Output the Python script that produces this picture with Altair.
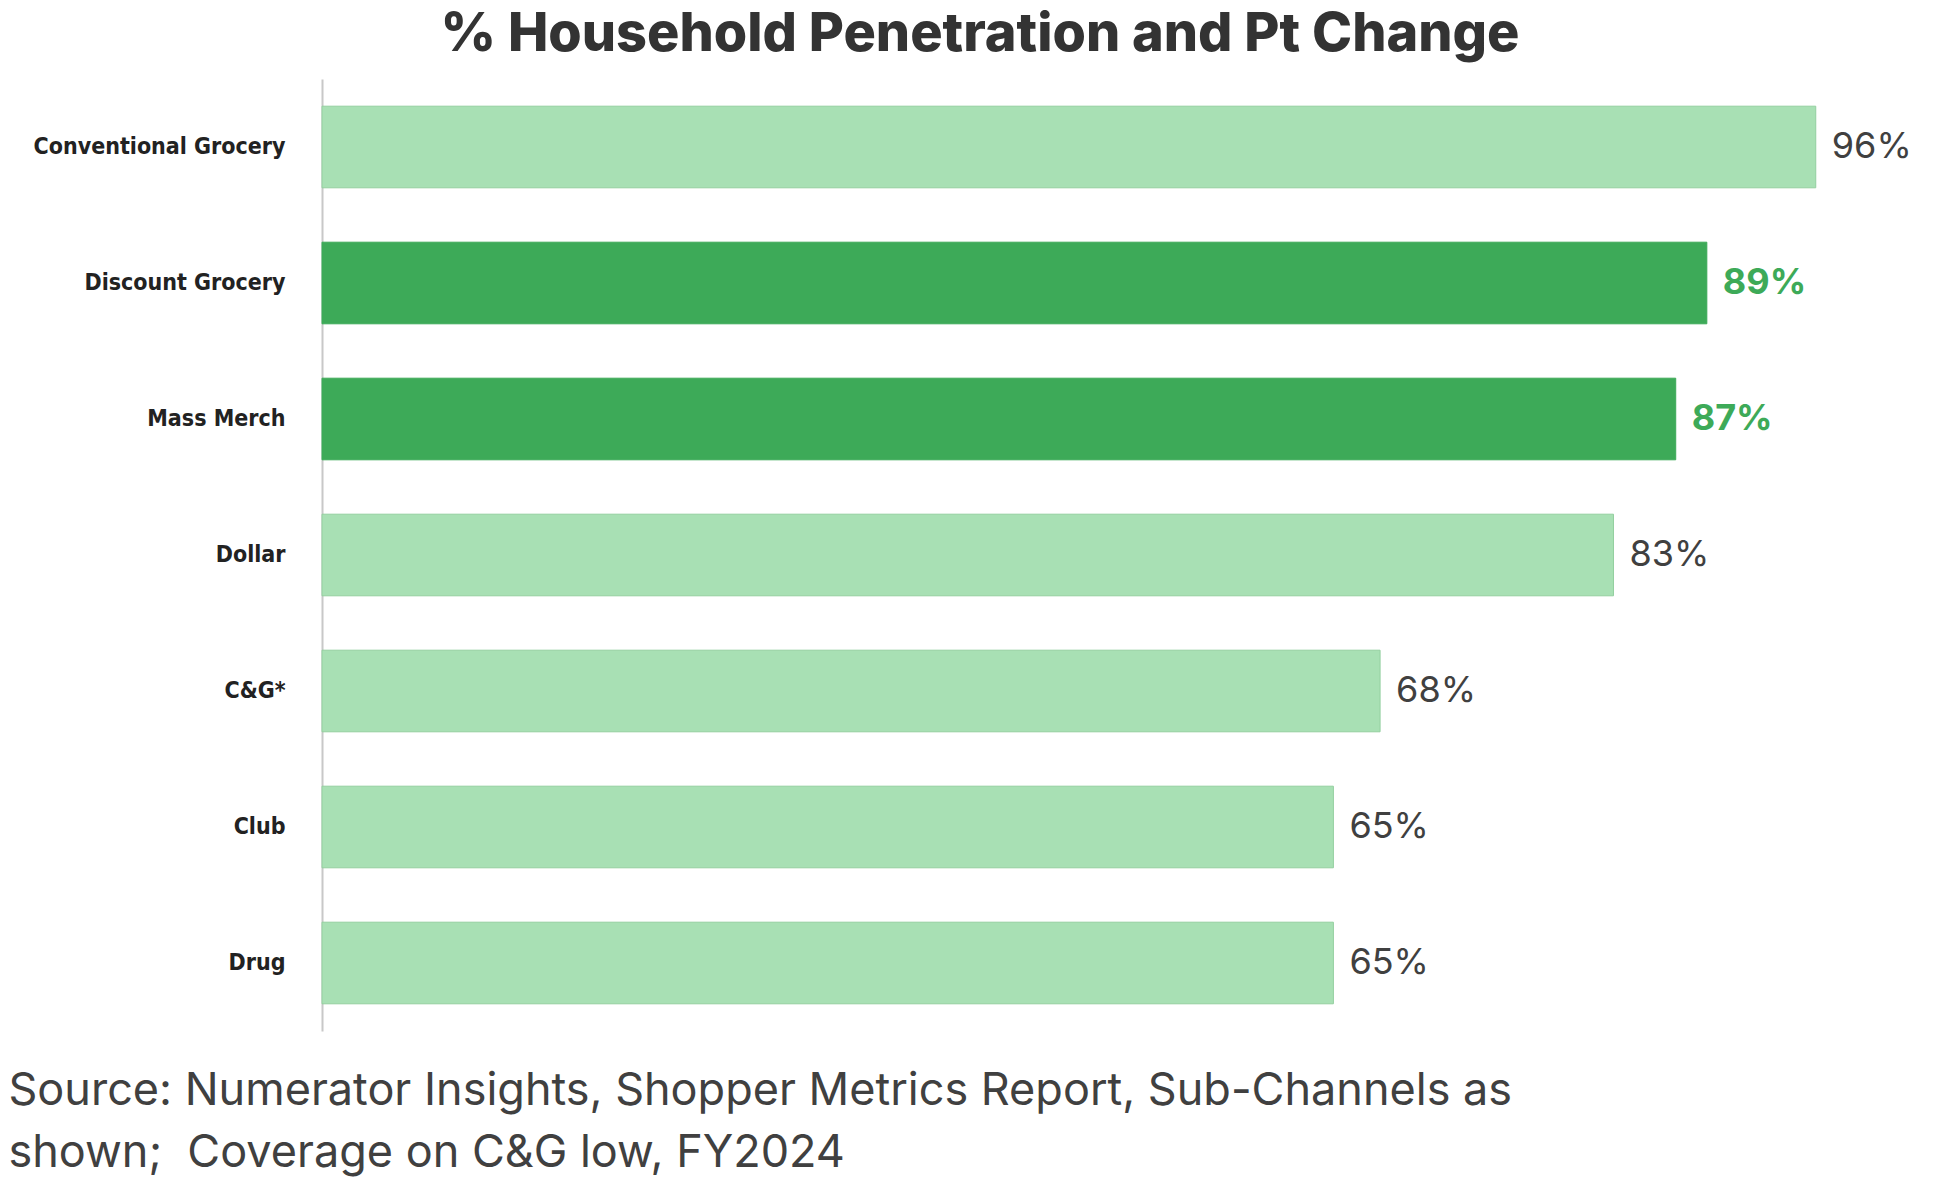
import altair as alt
import pandas as pd

categories = ["Conventional Grocery", "Discount Grocery", "Mass Merch", "Dollar", "C&G*", "Club", "Drug"]
values = [96, 89, 87, 83, 68, 65, 65]
highlight = [False, True, True, False, False, False, False]
value_labels = ["96%", "89%", "87%", "83%", "68%", "65%", "65%"]
title_text = "% Household Penetration and Pt Change"
source_lines = [
    "Source: Numerator Insights, Shopper Metrics Report, Sub-Channels as",
    "shown;\u00a0 Coverage on C&G low, FY2024",
]

df = pd.DataFrame({
    "channel": categories,
    "value": values,
    "hl": ["yes" if h else "no" for h in highlight],
    "label": value_labels,
})

LIGHT = "#a8e0b4"
DARK = "#3daa58"
LABEL_FONT = "'DejaVu Sans Condensed', 'Roboto Condensed', 'Liberation Sans Narrow', Roboto, sans-serif"

y = alt.Y(
    "channel:N",
    sort=categories,
    scale=alt.Scale(paddingInner=0.4, paddingOuter=0.2),
    axis=alt.Axis(
        title=None, ticks=False, labelPadding=37, labelLimit=500,
        labelFont=LABEL_FONT, labelFontWeight="bold",
        labelFontSize=23, labelColor="#222222",
        domainColor="#c8c8c8", domainWidth=2,
    ),
)
x = alt.X(
    "value:Q",
    scale=alt.Scale(domain=[0, 100]),
    axis=alt.Axis(
        labels=False, ticks=False, domain=False, grid=False,
        title=source_lines, titleAnchor="start", titleAlign="left",
        titleX=-314, titleY=73, titleBaseline="alphabetic",
        titleFont="Inter", titleFontSize=45, titleFontWeight="normal",
        titleColor="#404040", titleLineHeight=62, titleLimit=2000,
    ),
)

base = alt.Chart(df)

bars = base.mark_bar(strokeWidth=1).encode(
    x=x,
    y=y,
    color=alt.Color("hl:N", scale=alt.Scale(domain=["no", "yes"], range=[LIGHT, DARK]), legend=None),
    stroke=alt.Stroke("hl:N", scale=alt.Scale(domain=["no", "yes"], range=["#93cf9f", DARK]), legend=None),
)

txt_norm = base.transform_filter(alt.datum.hl == "no").mark_text(
    align="left", baseline="middle", dx=16, font="Inter", fontSize=36, color="#404040"
).encode(x="value:Q", y=alt.Y("channel:N", sort=categories), text="label:N")

txt_hl = base.transform_filter(alt.datum.hl == "yes").mark_text(
    align="left", baseline="middle", dx=16, font="Inter", fontSize=36, fontWeight="bold", color=DARK
).encode(x="value:Q", y=alt.Y("channel:N", sort=categories), text="label:N")

chart = alt.layer(bars, txt_norm, txt_hl).properties(
    width=1556,
    height=952,
    padding={"left": 0, "top": 0, "right": 10, "bottom": 10},
    title=alt.TitleParams(
        title_text, font="Inter", fontSize=54, fontWeight=800,
        color="#333333", offset=17, anchor="middle", dx=-120, limit=2000,
    ),
).configure_view(stroke=None)

chart.save("out.html", embed_options={"renderer": "svg", "actions": False})
